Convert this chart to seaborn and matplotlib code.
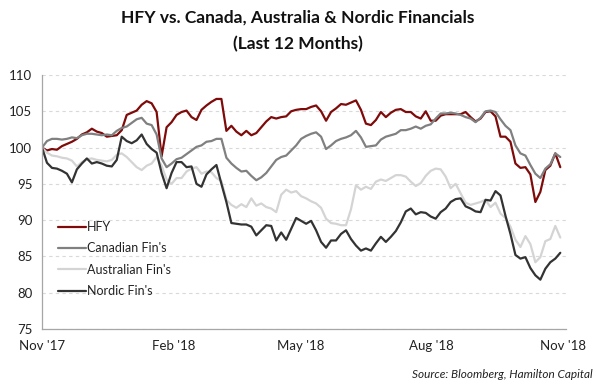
import numpy as np
import pandas as pd
import matplotlib
matplotlib.use("Agg")
import matplotlib.pyplot as plt
import seaborn as sns

# ---------------- data ----------------
series_names = ["HFY", "Canadian Fin's", "Australian Fin's", "Nordic Fin's"]
start_date = "2017-11-01"
end_date = "2018-10-30"
n_points = 105

hfy = [100.0, 99.6, 99.8, 99.7, 100.2, 100.5, 100.8, 101.2, 101.8, 102.1, 102.6, 102.2, 102.0, 101.5,
       101.6, 101.7, 102.4, 104.5, 104.8, 105.1, 105.9, 106.4, 106.1, 104.9, 98.8, 102.8, 103.5, 104.5,
       104.9, 105.1, 104.2, 103.8, 105.2, 105.8, 106.3, 106.7, 106.7, 102.3, 103.0, 102.2, 101.7, 102.3,
       101.7, 102.0, 102.8, 103.6, 104.2, 104.0, 104.2, 104.3, 105.0, 105.2,
       105.3, 105.3, 105.6, 105.8, 105.0, 103.7, 104.9, 105.4, 106.0, 105.9, 106.2, 106.5, 105.2, 103.3,
       103.1, 103.8, 104.9, 104.2, 104.8, 105.2, 105.3, 104.9, 104.9, 104.3, 104.0, 105.0,
       103.7, 103.7, 104.4, 104.6, 104.6, 104.6, 104.6, 104.9, 104.2, 103.6, 104.0, 104.9, 105.0, 104.3,
       101.5, 101.5, 100.8, 97.8, 97.2, 97.3, 96.3, 92.5, 93.9, 96.9, 97.5, 99.2, 97.3]

canadian = [100.0, 100.9, 101.2, 101.2, 101.1, 101.2, 101.4, 101.3, 101.7, 101.9, 101.9, 101.8, 101.7, 101.8,
            101.7, 102.3, 102.7, 102.9, 103.4, 103.9, 104.1, 103.3, 103.1, 101.8, 98.5, 97.3, 97.8, 98.4,
            98.6, 99.1, 99.6, 100.1, 100.3, 100.8, 100.9, 101.2, 101.2, 98.6, 97.8, 97.2, 96.7, 96.8,
            96.1, 95.5, 95.9, 96.5, 97.4, 98.3, 98.7, 98.9, 99.6, 100.3,
            101.2, 101.6, 101.9, 102.1, 101.5, 99.8, 100.3, 100.9, 101.2, 101.4, 101.7, 102.3, 101.4, 100.1,
            100.2, 100.3, 101.1, 101.5, 101.7, 101.9, 102.4, 102.4, 102.6, 102.9, 102.6, 103.0,
            103.2, 104.0, 104.7, 104.7, 104.8, 104.7, 104.5, 104.2, 104.0, 103.5, 104.1, 105.0, 105.1, 104.9,
            103.9, 103.0, 102.4, 100.3, 99.2, 98.9, 97.6, 96.4, 95.8, 97.1, 97.7, 99.2, 98.7]

australian = [100.0, 99.3, 98.9, 98.8, 98.6, 98.5, 98.2, 97.4, 98.0, 98.4, 98.5, 98.3, 98.2, 98.1,
              98.3, 99.0, 99.2, 98.7, 98.0, 97.3, 96.9, 97.5, 97.8, 98.7, 97.5, 95.6, 95.0, 95.8,
              95.8, 96.7, 97.1, 97.3, 96.4, 96.7, 96.6, 95.8, 95.4, 92.8, 92.1, 91.7, 92.2, 91.8,
              93.0, 92.0, 92.3, 91.8, 91.6, 91.1, 93.5, 94.2, 93.8, 94.0,
              93.3, 93.0, 92.6, 92.3, 91.7, 90.2, 89.6, 89.5, 89.3, 89.3, 91.5, 94.8, 94.2, 94.6,
              94.3, 95.3, 95.6, 95.4, 95.8, 96.2, 96.2, 96.0, 95.3, 94.7, 95.1, 96.1,
              96.8, 97.1, 97.0, 96.0, 94.4, 95.0, 93.7, 92.4, 92.1, 92.3, 92.5, 92.8, 91.8, 92.4,
              90.9, 90.3, 89.1, 87.3, 86.3, 87.8, 86.7, 84.2, 84.9, 87.1, 87.4, 89.2, 87.6]

nordic = [100.0, 97.9, 97.2, 97.1, 96.8, 96.4, 95.2, 97.0, 97.8, 98.5, 97.8, 98.0, 97.8, 97.5,
          97.4, 98.3, 101.5, 100.9, 100.6, 101.0, 101.8, 100.5, 99.8, 99.3, 96.5, 94.4, 96.5, 98.0,
          98.0, 97.3, 97.4, 95.0, 94.6, 96.3, 97.0, 97.6, 95.0, 92.5, 89.6, 89.5, 89.4, 89.4,
          89.1, 87.9, 88.6, 89.3, 89.2, 87.2, 88.3, 87.3, 88.8, 90.3,
          89.9, 89.5, 89.9, 88.6, 87.0, 86.2, 87.2, 87.2, 88.1, 88.6, 87.4, 86.5, 85.8, 86.1,
          85.8, 86.8, 87.7, 87.0, 87.7, 88.5, 89.7, 91.2, 91.6, 90.8, 91.1, 91.0,
          90.5, 90.2, 91.1, 91.6, 92.5, 92.9, 93.0, 91.9, 91.6, 91.2, 91.1, 92.8, 92.7, 94.0,
          93.4, 90.6, 88.1, 85.2, 84.7, 84.9, 83.4, 82.4, 81.8, 83.3, 84.2, 84.7, 85.5]

tick_dates = ["2017-11-01", "2018-02-01", "2018-05-01", "2018-08-01", "2018-11-01"]
tick_labels = ["Nov '17", "Feb '18", "May '18", "Aug '18", "Nov '18"]
y_ticks = [75, 80, 85, 90, 95, 100, 105, 110]

title_line1 = "HFY vs. Canada, Australia & Nordic Financials"
title_line2 = "(Last 12 Months)"
source_text = "Source: Bloomberg, Hamilton Capital"

# ---------------- build frame ----------------
dates = pd.date_range(start_date, end_date, periods=n_points)
df = pd.DataFrame({
    "date": np.tile(dates, 4),
    "value": hfy + canadian + australian + nordic,
    "series": np.repeat(series_names, n_points),
})

colors = ["#7F0A0A", "#808080", "#D4D4D4", "#333333"]

sns.set_theme(style="white")
plt.rcParams['font.family'] = ['Lato', 'DejaVu Sans']

fig = plt.figure(figsize=(5.96, 3.87), dpi=100)
ax = fig.add_axes([42 / 596, 1 - 329 / 387, (566 - 42) / 596, (329 - 75) / 387])

sns.lineplot(data=df, x="date", y="value", hue="series", hue_order=series_names,
             palette=colors, linewidth=1.6, ax=ax, legend=False)

ax.set_xlim(pd.Timestamp("2017-11-01"), pd.Timestamp("2018-11-03"))
ax.set_ylim(75, 110)
ax.set_yticks(y_ticks)
ax.set_yticklabels([str(v) for v in y_ticks])
ax.set_xticks(pd.to_datetime(tick_dates))
ax.set_xticklabels(tick_labels)
ax.set_xlabel("")
ax.set_ylabel("")

ax.yaxis.grid(True, linestyle=(0, (3, 3)), color="#D9D9D9", linewidth=0.8)
ax.set_axisbelow(True)
for s in ["top", "right"]:
    ax.spines[s].set_visible(False)
for s in ["left", "bottom"]:
    ax.spines[s].set_color("#A6A6A6")
    ax.spines[s].set_linewidth(0.9)
ax.tick_params(axis="both", length=4, width=0.8, color="#A6A6A6", direction="out",
               labelsize=9.5, labelcolor="#222222", pad=3)
ax.tick_params(axis="x", pad=4)

handles = ax.get_lines()[:4]
leg = ax.legend(handles, series_names, loc="upper left",
                bbox_to_anchor=((58 - 42) / 524, 1 - (221 - 75) / 254),
                frameon=False, fontsize=9, handlelength=2.2, handletextpad=0.15,
                labelspacing=0.75, borderpad=0, borderaxespad=0)
for t in leg.get_texts():
    t.set_color("#222222")

fig.text(298 / 596, 1 - 18 / 387, title_line1, ha="center", va="center",
         fontsize=12.5, fontweight="bold", color="#111111")
fig.text(298 / 596, 1 - 44 / 387, title_line2, ha="center", va="center",
         fontsize=12.5, fontweight="bold", color="#111111")
fig.text(593 / 596, 1 - 374 / 387, source_text, ha="right", va="center",
         fontsize=8.5, style="italic", color="#222222")

fig.savefig("out.png", dpi=100)
